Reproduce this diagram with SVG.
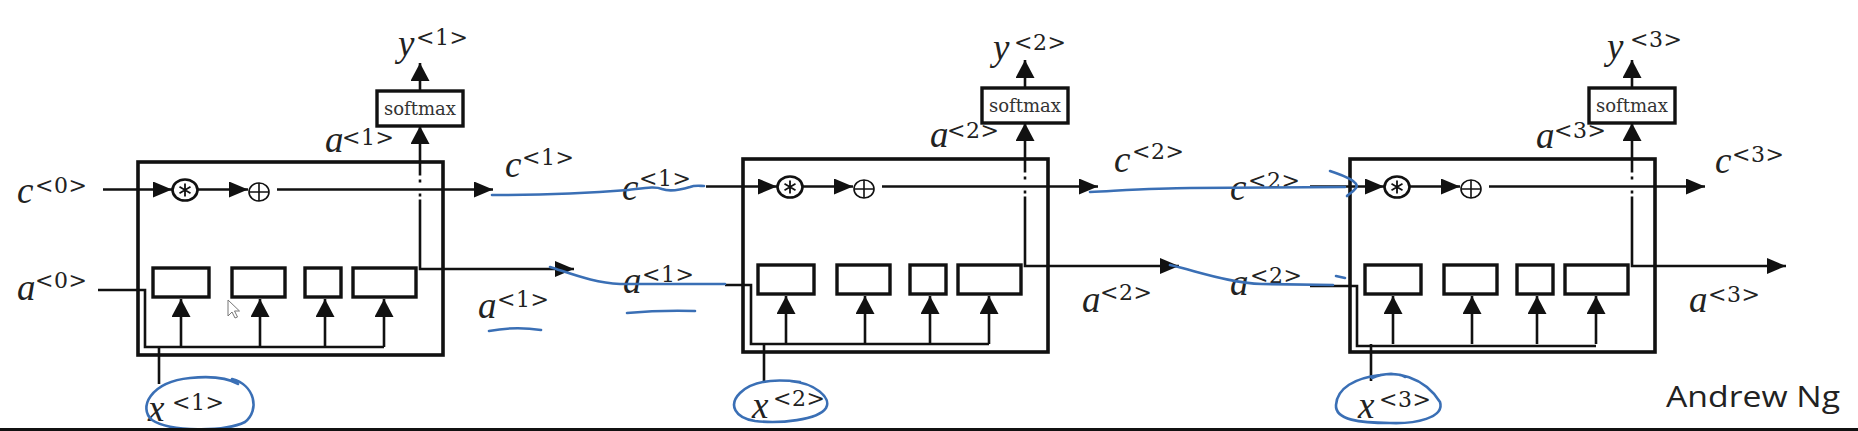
<svg xmlns="http://www.w3.org/2000/svg" width="1858" height="431" viewBox="0 0 1858 431">
<defs>
<style>
.w{fill:none;stroke:#111;stroke-width:2.6}
.fr{fill:none;stroke:#111;stroke-width:3.6}
.bx{fill:#fff;stroke:#111;stroke-width:3.4}
.m{font-family:"Liberation Serif","Times New Roman",serif;font-style:italic;font-size:37px;fill:#222}
.s{font-family:"DejaVu Serif","Liberation Serif",serif;font-size:22px;letter-spacing:0.5px;fill:#222}
.sm{font-family:"DejaVu Serif","Liberation Serif",serif;font-size:18px;fill:#333}
.bl{fill:none;stroke:#3a6fb5;stroke-width:2.6;stroke-linecap:round;stroke-linejoin:round}
</style>
<marker id="ah" markerUnits="userSpaceOnUse" markerWidth="19" markerHeight="16" refX="19" refY="8" orient="auto" viewBox="0 0 19 16"><path d="M0,0 L19,8 L0,16 z" fill="#111"/></marker>
<marker id="av" markerUnits="userSpaceOnUse" markerWidth="18" markerHeight="19" refX="18" refY="9.5" orient="auto" viewBox="0 0 18 19"><path d="M0,0 L18,9.5 L0,19 z" fill="#111"/></marker>
<g id="cellshape">
<rect x="0" y="0" width="305" height="193" class="fr"/>
<rect x="15" y="106" width="56" height="29" class="bx"/>
<rect x="94" y="106" width="53" height="29" class="bx"/>
<rect x="167" y="106" width="36" height="29" class="bx"/>
<rect x="215" y="106" width="63" height="29" class="bx"/>
<ellipse cx="47" cy="28" rx="12.5" ry="10.5" fill="#fff" stroke="#111" stroke-width="2.6"/>
<path d="M47,21.5 V34.5 M41.5,24.8 L52.5,31.2 M41.5,31.2 L52.5,24.8" stroke="#111" stroke-width="1.8"/>
<ellipse cx="121" cy="30" rx="10" ry="9" fill="#fff" stroke="#111" stroke-width="1.6"/>
<path d="M111,30 H131 M121,21 V39" stroke="#111" stroke-width="1.6"/>
<rect x="239" y="-71" width="86" height="35" class="bx"/>
<text x="282" y="-47" class="sm" text-anchor="middle" textLength="72" lengthAdjust="spacingAndGlyphs">softmax</text>
</g>
<g id="cellwires">
<line x1="60" y1="27.5" x2="110" y2="27.5" class="w" marker-end="url(#ah)"/>
<line x1="139" y1="27.5" x2="355" y2="27.5" class="w" marker-end="url(#ah)"/>
<path d="M282,37.5 V107 H436" class="w" marker-end="url(#ah)"/>
<path d="M282,17.5 V20.5 M282,31.5 V34.5" class="w"/>
<line x1="282" y1="13.5" x2="282" y2="-36" class="w" marker-end="url(#av)"/>
<line x1="282" y1="-71" x2="282" y2="-99" class="w" marker-end="url(#av)"/>
<line x1="43" y1="185" x2="43" y2="137" class="w" marker-end="url(#av)"/>
<line x1="122" y1="185" x2="122" y2="137" class="w" marker-end="url(#av)"/>
<line x1="187" y1="185" x2="187" y2="137" class="w" marker-end="url(#av)"/>
<line x1="246" y1="185" x2="246" y2="137" class="w" marker-end="url(#av)"/>
<line x1="21" y1="185" x2="21" y2="222" class="w"/>
</g>
</defs>
<rect width="1858" height="431" fill="#fff"/>

<g id="connectors">
<g transform="translate(138,162)"><use href="#cellwires"/>
<line x1="-35" y1="27.5" x2="34" y2="27.5" class="w" marker-end="url(#ah)"/>
<path d="M-40,128 H7 V185 H246" class="w"/></g>
<g transform="translate(743,159)"><use href="#cellwires"/>
<line x1="-37" y1="27.5" x2="34" y2="27.5" class="w" marker-end="url(#ah)"/>
<path d="M-18,126 H8 V185 H246" class="w"/></g>
<g transform="translate(1350,159)"><use href="#cellwires"/>
<line x1="-40" y1="27.5" x2="34" y2="27.5" class="w" marker-end="url(#ah)"/>
<path d="M-40,127 H7 V187 H246" class="w"/></g>
</g>

<g id="cell1" transform="translate(138,162)"><use href="#cellshape"/></g>
<g id="cell2" transform="translate(743,159)"><use href="#cellshape"/></g>
<g id="cell3" transform="translate(1350,159)"><use href="#cellshape"/></g>

<g id="labels">
<text><tspan class="m" x="17" y="203">c</tspan><tspan class="s" x="35" y="193">&lt;0&gt;</tspan></text>
<text><tspan class="m" x="17" y="300">a</tspan><tspan class="s" x="35" y="288">&lt;0&gt;</tspan></text>
<text><tspan class="m" x="398" y="56">y</tspan><tspan class="s" x="416" y="45">&lt;1&gt;</tspan></text>
<text><tspan class="m" x="325" y="152">a</tspan><tspan class="s" x="342" y="145">&lt;1&gt;</tspan></text>
<text><tspan class="m" x="505" y="177">c</tspan><tspan class="s" x="522" y="165">&lt;1&gt;</tspan></text>
<text><tspan class="m" x="478" y="318">a</tspan><tspan class="s" x="497" y="307">&lt;1&gt;</tspan></text>
<text><tspan class="m" x="148" y="421">x</tspan><tspan class="s" x="172" y="410">&lt;1&gt;</tspan></text>
<text><tspan class="m" x="622" y="200">c</tspan><tspan class="s" x="639" y="186">&lt;1&gt;</tspan></text>
<text><tspan class="m" x="623" y="293">a</tspan><tspan class="s" x="642" y="282">&lt;1&gt;</tspan></text>
<text><tspan class="m" x="993" y="60">y</tspan><tspan class="s" x="1014" y="50">&lt;2&gt;</tspan></text>
<text><tspan class="m" x="930" y="147">a</tspan><tspan class="s" x="947" y="138">&lt;2&gt;</tspan></text>
<text><tspan class="m" x="1114" y="172">c</tspan><tspan class="s" x="1132" y="159">&lt;2&gt;</tspan></text>
<text><tspan class="m" x="1082" y="312">a</tspan><tspan class="s" x="1100" y="300">&lt;2&gt;</tspan></text>
<text><tspan class="m" x="752" y="418">x</tspan><tspan class="s" x="773" y="406">&lt;2&gt;</tspan></text>
<text><tspan class="m" x="1230" y="200">c</tspan><tspan class="s" x="1248" y="188">&lt;2&gt;</tspan></text>
<text><tspan class="m" x="1230" y="295">a</tspan><tspan class="s" x="1250" y="283">&lt;2&gt;</tspan></text>
<text><tspan class="m" x="1607" y="59">y</tspan><tspan class="s" x="1630" y="47">&lt;3&gt;</tspan></text>
<text><tspan class="m" x="1536" y="148">a</tspan><tspan class="s" x="1554" y="138">&lt;3&gt;</tspan></text>
<text><tspan class="m" x="1715" y="173">c</tspan><tspan class="s" x="1732" y="162">&lt;3&gt;</tspan></text>
<text><tspan class="m" x="1689" y="312">a</tspan><tspan class="s" x="1708" y="302">&lt;3&gt;</tspan></text>
<text><tspan class="m" x="1358" y="418">x</tspan><tspan class="s" x="1379" y="407">&lt;3&gt;</tspan></text>
<text x="1666" y="407" style="font-family:'Open Sans','Liberation Sans',sans-serif;font-size:29px;fill:#222" textLength="174" lengthAdjust="spacingAndGlyphs">Andrew Ng</text>
</g>

<g id="annotations">
<path class="bl" d="M492,195 C540,195 590,193 628,190 C645,188 655,186 662,189 C670,192 680,190 690,187 C695,185 700,186 704,186"/>
<path class="bl" d="M489,331 Q515,326 541,330"/>
<path class="bl" d="M550,267 C575,275 595,283 620,284 L725,284"/>
<path class="bl" d="M627,313 Q660,310 695,311"/>
<path class="bl" d="M232,379 C255,385 260,410 245,422 C225,432 170,432 152,420 C138,408 150,382 190,378 C210,376 228,378 238,384"/>
<path class="bl" d="M1090,192 C1130,190 1160,188 1190,188 L1345,187"/>
<path class="bl" d="M1330,171 C1345,176 1360,182 1356,188 C1353,192 1349,194 1347,196"/>
<path class="bl" d="M1170,265 C1200,272 1230,283 1262,284 L1333,285"/>
<path class="bl" d="M1336,276 L1345,278"/>
<path class="bl" d="M790,381 C815,383 832,398 826,408 C818,420 780,424 755,421 C735,418 728,405 740,393 C750,383 770,378 800,382"/>
<path class="bl" d="M1372,378 C1395,368 1425,378 1440,402 C1445,418 1415,424 1390,423 C1360,423 1335,420 1336,405 C1337,388 1355,378 1380,375 C1392,373 1400,374 1405,377"/>
<path d="M228,300 L228,316 L232,312 L235,318 L237.5,317 L234.5,311 L239.5,311 Z" fill="#fff" stroke="#777" stroke-width="1"/>
</g>
<rect x="0" y="428" width="1858" height="3" fill="#111"/>
</svg>
